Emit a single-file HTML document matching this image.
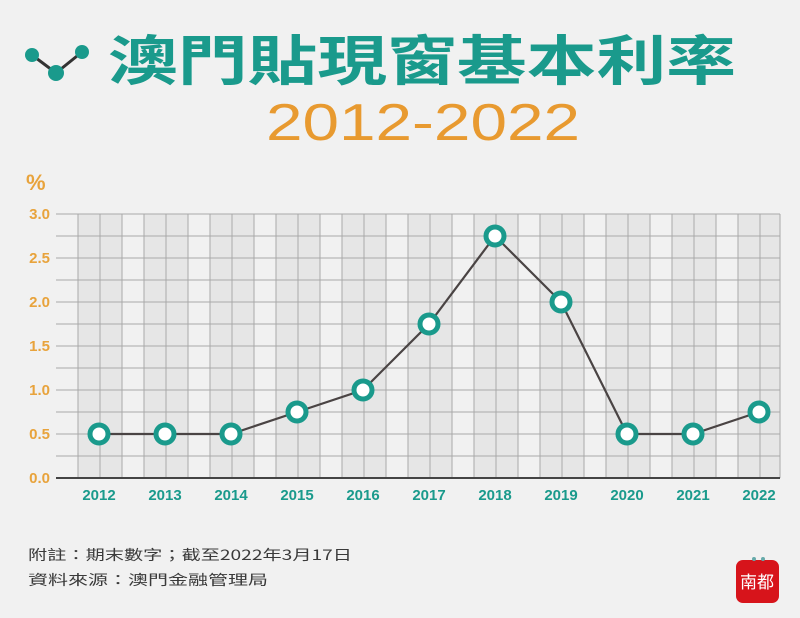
<!DOCTYPE html>
<html><head><meta charset="utf-8"><style>
html,body{margin:0;padding:0;background:#f1f1f1;}
body{width:800px;height:618px;overflow:hidden;position:relative;font-family:"Liberation Sans","Noto Sans CJK TC",sans-serif;}
</style></head><body>
<svg width="800" height="618" viewBox="0 0 800 618" xmlns="http://www.w3.org/2000/svg" style="position:absolute;left:0;top:0">
<rect width="800" height="618" fill="#f1f1f1"/>
<!-- header icon -->
<polyline points="32,55 56,73 82,52" fill="none" stroke="#333" stroke-width="3"/>
<circle cx="32" cy="55" r="7" fill="#1a9a8c"/><circle cx="56" cy="73" r="8" fill="#1a9a8c"/><circle cx="82" cy="52" r="7" fill="#1a9a8c"/>
<text x="108" y="80" font-family="Noto Sans CJK TC, sans-serif" font-size="54" font-weight="bold" fill="#1a9a8c" textLength="628" lengthAdjust="spacingAndGlyphs">澳門貼現窗基本利率</text>
<text x="266" y="140" font-family="Liberation Sans, sans-serif" font-size="52" fill="#e89a30" textLength="314" lengthAdjust="spacingAndGlyphs">2012-2022</text>
<!-- plot background bands -->
<g fill="#e6e6e6">
<rect x="78" y="214" width="44" height="264"/><rect x="144" y="214" width="44" height="264"/><rect x="210" y="214" width="44" height="264"/><rect x="276" y="214" width="44" height="264"/><rect x="342" y="214" width="44" height="264"/><rect x="408" y="214" width="44" height="264"/><rect x="474" y="214" width="44" height="264"/><rect x="540" y="214" width="44" height="264"/><rect x="606" y="214" width="44" height="264"/><rect x="672" y="214" width="44" height="264"/><rect x="738" y="214" width="42" height="264"/>
</g>
<g stroke="#a9a9a9" stroke-width="1">
<line x1="56" y1="214" x2="780" y2="214"/><line x1="56" y1="236" x2="780" y2="236"/><line x1="56" y1="258" x2="780" y2="258"/><line x1="56" y1="280" x2="780" y2="280"/><line x1="56" y1="302" x2="780" y2="302"/><line x1="56" y1="324" x2="780" y2="324"/><line x1="56" y1="346" x2="780" y2="346"/><line x1="56" y1="368" x2="780" y2="368"/><line x1="56" y1="390" x2="780" y2="390"/><line x1="56" y1="412" x2="780" y2="412"/><line x1="56" y1="434" x2="780" y2="434"/><line x1="56" y1="456" x2="780" y2="456"/>
<line x1="78" y1="214" x2="78" y2="478"/><line x1="100" y1="214" x2="100" y2="478"/><line x1="122" y1="214" x2="122" y2="478"/><line x1="144" y1="214" x2="144" y2="478"/><line x1="166" y1="214" x2="166" y2="478"/><line x1="188" y1="214" x2="188" y2="478"/><line x1="210" y1="214" x2="210" y2="478"/><line x1="232" y1="214" x2="232" y2="478"/><line x1="254" y1="214" x2="254" y2="478"/><line x1="276" y1="214" x2="276" y2="478"/><line x1="298" y1="214" x2="298" y2="478"/><line x1="320" y1="214" x2="320" y2="478"/><line x1="342" y1="214" x2="342" y2="478"/><line x1="364" y1="214" x2="364" y2="478"/><line x1="386" y1="214" x2="386" y2="478"/><line x1="408" y1="214" x2="408" y2="478"/><line x1="430" y1="214" x2="430" y2="478"/><line x1="452" y1="214" x2="452" y2="478"/><line x1="474" y1="214" x2="474" y2="478"/><line x1="496" y1="214" x2="496" y2="478"/><line x1="518" y1="214" x2="518" y2="478"/><line x1="540" y1="214" x2="540" y2="478"/><line x1="562" y1="214" x2="562" y2="478"/><line x1="584" y1="214" x2="584" y2="478"/><line x1="606" y1="214" x2="606" y2="478"/><line x1="628" y1="214" x2="628" y2="478"/><line x1="650" y1="214" x2="650" y2="478"/><line x1="672" y1="214" x2="672" y2="478"/><line x1="694" y1="214" x2="694" y2="478"/><line x1="716" y1="214" x2="716" y2="478"/><line x1="738" y1="214" x2="738" y2="478"/><line x1="760" y1="214" x2="760" y2="478"/><line x1="780" y1="214" x2="780" y2="478"/>
</g>
<line x1="56" y1="478" x2="780" y2="478" stroke="#444" stroke-width="2"/>
<!-- y labels -->
<g font-family="Liberation Sans, sans-serif" font-weight="bold" font-size="15" fill="#e8a33c" text-anchor="end">
<text x="50" y="219">3.0</text><text x="50" y="263">2.5</text><text x="50" y="307">2.0</text><text x="50" y="351">1.5</text><text x="50" y="395">1.0</text><text x="50" y="439">0.5</text><text x="50" y="483">0.0</text>
</g>
<text x="26" y="190" font-family="Liberation Sans, sans-serif" font-weight="bold" font-size="22" fill="#e8a33c">%</text>
<!-- x labels -->
<g font-family="Liberation Sans, sans-serif" font-weight="bold" font-size="15" fill="#1a9a8c" text-anchor="middle">
<text x="99" y="500">2012</text><text x="165" y="500">2013</text><text x="231" y="500">2014</text><text x="297" y="500">2015</text><text x="363" y="500">2016</text><text x="429" y="500">2017</text><text x="495" y="500">2018</text><text x="561" y="500">2019</text><text x="627" y="500">2020</text><text x="693" y="500">2021</text><text x="759" y="500">2022</text>
</g>
<polyline points="99,434 165,434 231,434 297,412 363,390 429,324 495,236 561,302 627,434 693,434 759,412" fill="none" stroke="#4a4444" stroke-width="2.2"/>
<g fill="#fff" stroke="#1a9a8c" stroke-width="5">
<circle cx="99" cy="434" r="9"/><circle cx="165" cy="434" r="9"/><circle cx="231" cy="434" r="9"/><circle cx="297" cy="412" r="9"/><circle cx="363" cy="390" r="9"/><circle cx="429" cy="324" r="9"/><circle cx="495" cy="236" r="9"/><circle cx="561" cy="302" r="9"/><circle cx="627" cy="434" r="9"/><circle cx="693" cy="434" r="9"/><circle cx="759" cy="412" r="9"/>
</g>
<!-- footer -->
<g font-family="Noto Sans CJK TC, sans-serif" font-size="14" fill="#3a3a3a">
<text x="28" y="560" textLength="324" lengthAdjust="spacingAndGlyphs">附註：期末數字；截至2022年3月17日</text>
<text x="28" y="585" textLength="240" lengthAdjust="spacingAndGlyphs">資料來源：澳門金融管理局</text>
</g>
<rect x="736" y="560" width="43" height="43" rx="7" fill="#d7141b"/>
<circle cx="754" cy="559" r="2" fill="#6aa"/><circle cx="763" cy="559" r="2" fill="#6aa"/>
<text x="757" y="588" font-family="Noto Sans CJK SC, sans-serif" font-size="17" fill="#fff" text-anchor="middle">南都</text>
</svg>
</body></html>
